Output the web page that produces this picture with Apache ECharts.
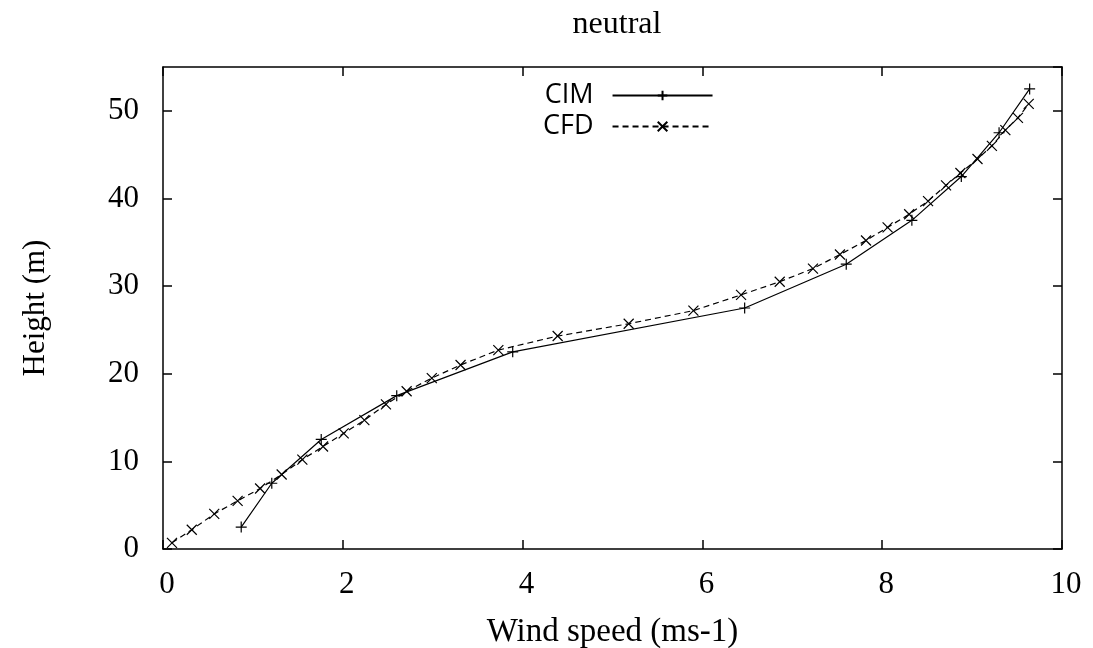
<!DOCTYPE html>
<html>
<head>
<meta charset="utf-8">
<script src="https://cdn.jsdelivr.net/npm/echarts@6/dist/echarts.min.js"></script>
<style>
  html, body { margin: 0; padding: 0; background: #fff; }
  #chart { width: 1093px; height: 648px; }
</style>
</head>
<body>
<div id="chart"></div>
<script>
// CIM profile (wind speed vs height)
const cimSpeed = [0.87, 1.21, 1.76, 2.60, 3.89, 6.47, 7.60, 8.33, 8.88, 9.30, 9.64];
const cimHeight = [2.5, 7.5, 12.5, 17.5, 22.5, 27.5, 32.5, 37.5, 42.5, 47.5, 52.5];

// CFD profile
const cfdSpeed = [0.10, 0.32, 0.57, 0.83, 1.08, 1.32, 1.55, 1.78, 2.01, 2.24, 2.48, 2.71, 2.99,
  3.31, 3.73, 4.39, 5.18, 5.90, 6.43, 6.86, 7.23, 7.53, 7.82, 8.06, 8.30, 8.51, 8.71, 8.87,
  9.06, 9.22, 9.37, 9.51, 9.63];
const cfdHeight = [0.7, 2.2, 4.0, 5.5, 6.9, 8.5, 10.2, 11.7, 13.2, 14.7, 16.5, 18.0, 19.5,
  21.0, 22.7, 24.3, 25.7, 27.2, 29.0, 30.5, 32.0, 33.6, 35.2, 36.7, 38.2, 39.7, 41.5, 42.9,
  44.5, 46.0, 47.8, 49.2, 50.8];

const xTicks = [0, 2, 4, 6, 8, 10];
const yTicks = [0, 10, 20, 30, 40, 50];

const chart = echarts.init(document.getElementById("chart"));

const serif = "Liberation Serif";
const plusSymbol = "path://M0,5L10,5M5,0L5,10";
const crossSymbol = "path://M0,0L10,10M10,0L0,10";

const zip = (xs, ys) => xs.map((x, i) => [x, ys[i]]);

const axisCommon = {
  type: "value",
  axisLine: { show: true, onZero: false, lineStyle: { color: "#000", width: 1.5 } },
  axisTick: { show: true, inside: true, length: 9, lineStyle: { color: "#000", width: 1.5 } },
  splitLine: { show: false },
};

const option = {
  animation: false,
  backgroundColor: "#fff",
  title: {
    text: "neutral",
    left: 612,
    textAlign: "center",
    top: 4,
    textStyle: { fontFamily: serif, fontSize: 32, fontWeight: "normal", color: "#000" },
  },
  legend: {
    orient: "vertical",
    left: 538,
    top: 77,
    align: "right",
    itemWidth: 100,
    itemHeight: 12,
    itemGap: 4,
    textStyle: {
      fontFamily: "Open Sans",
      fontSize: 27,
      color: "#000",
      width: 60,
      align: "right",
      padding: [0, 14, 0, 0],
    },
    data: ["CIM", "CFD"],
  },
  grid: { left: 163, right: 31, top: 67, bottom: 99, outerBoundsMode: "none" },
  xAxis: [
    {
      ...axisCommon,
      min: xTicks[0],
      max: xTicks[xTicks.length - 1],
      interval: 2,
      name: "Wind speed (ms-1)",
      nameLocation: "middle",
      nameGap: 67,
      nameTextStyle: { fontFamily: serif, fontSize: 33, color: "#000" },
      axisLabel: { fontFamily: serif, fontSize: 31, color: "#000", margin: 20, padding: [0, 0, 0, 8] },
    },
    {
      ...axisCommon,
      position: "top",
      min: xTicks[0],
      max: xTicks[xTicks.length - 1],
      interval: 2,
      axisLabel: { show: false },
    },
  ],
  yAxis: [
    {
      ...axisCommon,
      min: yTicks[0],
      max: 55,
      interval: 10,
      name: "Height (m)",
      nameLocation: "middle",
      nameGap: 112,
      nameTextStyle: { fontFamily: serif, fontSize: 31, color: "#000" },
      axisLabel: { fontFamily: serif, fontSize: 31, color: "#000", margin: 24, showMaxLabel: false },
    },
    {
      ...axisCommon,
      position: "right",
      min: yTicks[0],
      max: 55,
      interval: 10,
      axisLabel: { show: false },
    },
  ],
  series: [
    {
      name: "CIM",
      type: "line",
      data: zip(cimSpeed, cimHeight),
      symbol: plusSymbol,
      symbolSize: 11,
      showAllSymbol: true,
      color: "#000",
      lineStyle: { color: "#000", width: 1.2, type: "solid" },
      itemStyle: { color: "rgba(0,0,0,0)", borderColor: "#000", borderWidth: 1.2 },
    },
    {
      name: "CFD",
      type: "line",
      data: zip(cfdSpeed, cfdHeight),
      symbol: crossSymbol,
      symbolSize: 10,
      showAllSymbol: true,
      color: "#000",
      lineStyle: { color: "#000", width: 1.2, type: [6, 4] },
      itemStyle: { color: "rgba(0,0,0,0)", borderColor: "#000", borderWidth: 1.2 },
    },
  ],
};

chart.setOption(option);
window.addEventListener("resize", () => chart.resize());
</script>
</body>
</html>
